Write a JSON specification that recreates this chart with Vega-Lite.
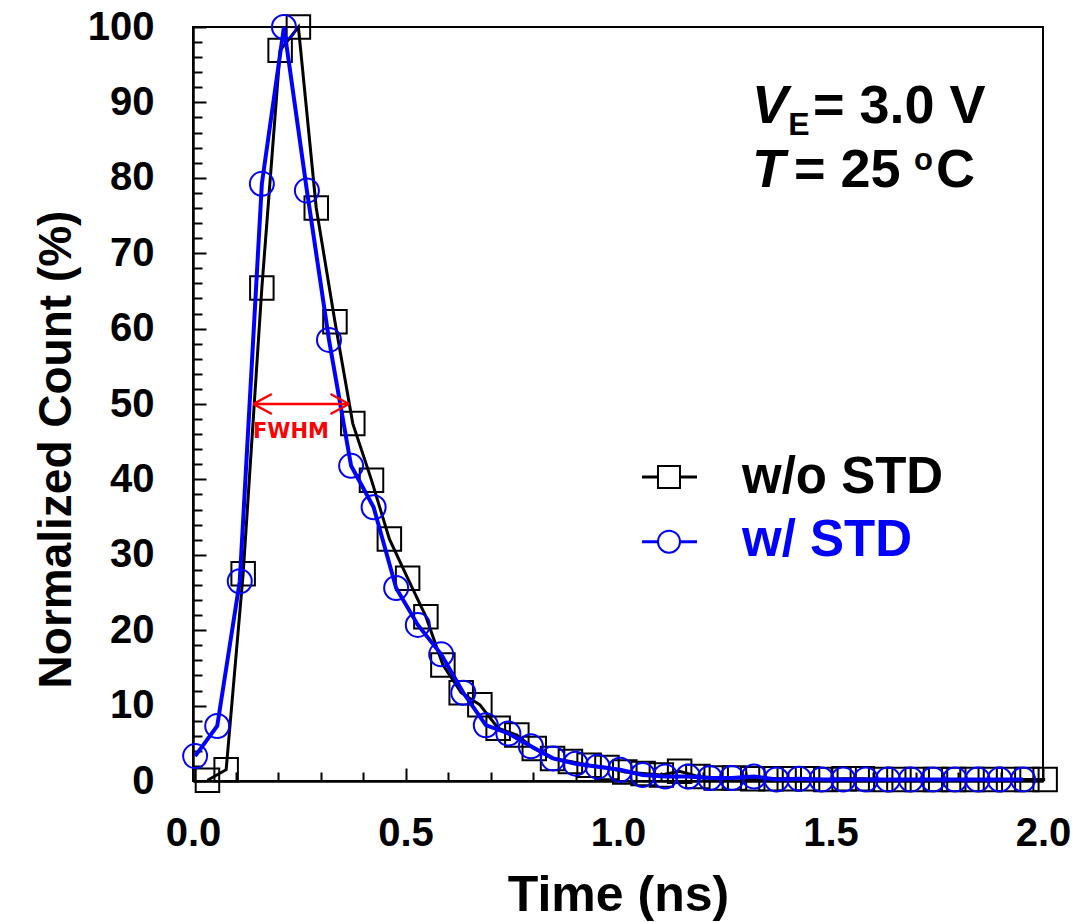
{
  "$schema": "https://vega.github.io/schema/vega-lite/v6.json",
  "width": 850,
  "height": 754,
  "autosize": {"type": "none"},
  "padding": {"left": 193, "top": 27, "right": 46, "bottom": 141},
  "background": "white",
  "config": {
    "view": {"stroke": "black", "strokeWidth": 2},
    "font": "Liberation Sans"
  },
  "resolve": {"axis": {"x": "independent", "y": "independent"}},
  "datasets": {
    "wo": [
      {"t": 0.034, "v": 0.1}, {"t": 0.078, "v": 1.5}, {"t": 0.118, "v": 27.5}, {"t": 0.162, "v": 65.4},
      {"t": 0.205, "v": 96.9}, {"t": 0.248, "v": 100}, {"t": 0.290, "v": 76.0}, {"t": 0.334, "v": 60.9},
      {"t": 0.376, "v": 47.4}, {"t": 0.420, "v": 39.9}, {"t": 0.462, "v": 32.1}, {"t": 0.505, "v": 26.9},
      {"t": 0.548, "v": 21.8}, {"t": 0.588, "v": 15.4}, {"t": 0.631, "v": 11.7}, {"t": 0.675, "v": 10.1},
      {"t": 0.718, "v": 7.0}, {"t": 0.762, "v": 6.1}, {"t": 0.803, "v": 4.3}, {"t": 0.846, "v": 3.0},
      {"t": 0.888, "v": 2.6}, {"t": 0.932, "v": 2.1}, {"t": 0.974, "v": 1.8}, {"t": 1.016, "v": 1.2},
      {"t": 1.059, "v": 1.0}, {"t": 1.102, "v": 0.8}, {"t": 1.145, "v": 1.3}, {"t": 1.188, "v": 0.6},
      {"t": 1.231, "v": 0.4}, {"t": 1.274, "v": 0.4}, {"t": 1.317, "v": 0.3}, {"t": 1.360, "v": 0.3},
      {"t": 1.403, "v": 0.3}, {"t": 1.446, "v": 0.3}, {"t": 1.489, "v": 0.2}, {"t": 1.532, "v": 0.3},
      {"t": 1.575, "v": 0.3}, {"t": 1.618, "v": 0.2}, {"t": 1.661, "v": 0.2}, {"t": 1.704, "v": 0.2},
      {"t": 1.747, "v": 0.2}, {"t": 1.790, "v": 0.2}, {"t": 1.833, "v": 0.2}, {"t": 1.876, "v": 0.2},
      {"t": 1.919, "v": 0.2}, {"t": 1.962, "v": 0.2}, {"t": 2.005, "v": 0.2}
    ],
    "w": [
      {"t": 0.005, "v": 3.3}, {"t": 0.057, "v": 7.3}, {"t": 0.110, "v": 26.5}, {"t": 0.162, "v": 79.2},
      {"t": 0.214, "v": 100}, {"t": 0.268, "v": 78.3}, {"t": 0.320, "v": 58.5}, {"t": 0.372, "v": 41.8},
      {"t": 0.425, "v": 36.3}, {"t": 0.478, "v": 25.6}, {"t": 0.529, "v": 20.7}, {"t": 0.584, "v": 16.8},
      {"t": 0.636, "v": 11.7}, {"t": 0.689, "v": 7.4}, {"t": 0.742, "v": 6.3}, {"t": 0.795, "v": 4.6},
      {"t": 0.847, "v": 3.0}, {"t": 0.900, "v": 2.3}, {"t": 0.952, "v": 1.9}, {"t": 1.005, "v": 1.5},
      {"t": 1.058, "v": 0.8}, {"t": 1.111, "v": 0.6}, {"t": 1.165, "v": 0.6}, {"t": 1.216, "v": 0.4},
      {"t": 1.268, "v": 0.4}, {"t": 1.320, "v": 0.6}, {"t": 1.373, "v": 0.2}, {"t": 1.426, "v": 0.3},
      {"t": 1.479, "v": 0.2}, {"t": 1.530, "v": 0.2}, {"t": 1.583, "v": 0.2}, {"t": 1.635, "v": 0.2},
      {"t": 1.689, "v": 0.2}, {"t": 1.741, "v": 0.2}, {"t": 1.793, "v": 0.2}, {"t": 1.846, "v": 0.2},
      {"t": 1.898, "v": 0.2}, {"t": 1.953, "v": 0.2}
    ]
  },
  "layer": [
    {
      "data": {"name": "wo"},
      "mark": {"type": "line", "color": "black", "strokeWidth": 3, "interpolate": "linear"},
      "encoding": {
        "x": {
          "field": "t", "type": "quantitative",
          "scale": {"domain": [0, 2], "nice": false, "zero": false},
          "axis": {
            "orient": "bottom",
            "title": "Time (ns)",
            "values": [0, 0.5, 1.0, 1.5, 2.0],
            "format": ".1f",
            "tickSize": -13,
            "tickColor": "black", "tickWidth": 2,
            "domainColor": "black", "domainWidth": 2.5,
            "grid": false,
            "labelFont": "Liberation Sans", "labelFontWeight": "bold", "labelFontSize": 40, "labelColor": "black",
            "labelBaseline": "alphabetic", "labelPadding": 77, "labelOverlap": false, "labelFlush": false,
            "titleFont": "Liberation Sans", "titleFontWeight": "bold", "titleFontSize": 50, "titleColor": "black",
            "titleBaseline": "alphabetic", "titleY": 129
          }
        },
        "y": {
          "field": "v", "type": "quantitative",
          "scale": {"domain": [0, 100], "nice": false, "zero": false},
          "axis": {
            "orient": "left",
            "title": "Normalized Count (%)",
            "values": [0, 10, 20, 30, 40, 50, 60, 70, 80, 90, 100],
            "tickSize": -13,
            "tickColor": "black", "tickWidth": 2,
            "domainColor": "black", "domainWidth": 2.5,
            "grid": false,
            "labelFont": "Liberation Sans", "labelFontWeight": "bold", "labelFontSize": 40, "labelColor": "black",
            "labelBaseline": "middle", "labelPadding": 52, "labelOverlap": false, "labelFlush": false,
            "titleFont": "Liberation Sans", "titleFontWeight": "bold", "titleFontSize": 46, "titleColor": "black",
            "titleBaseline": "alphabetic", "titleX": -123, "titleY": 422, "titleAlign": "center"
          }
        }
      }
    },
    {
      "data": {"name": "wo"},
      "mark": {"type": "point", "shape": "square", "filled": false, "color": "black", "strokeWidth": 2, "size": 552, "opacity": 1},
      "encoding": {
        "x": {
          "field": "t", "type": "quantitative",
          "axis": {
            "orient": "bottom", "title": null, "labels": false, "domain": false, "grid": false,
            "values": [0.1, 0.2, 0.3, 0.4, 0.6, 0.7, 0.8, 0.9, 1.1, 1.2, 1.3, 1.4, 1.6, 1.7, 1.8, 1.9],
            "tickSize": -9, "tickColor": "black", "tickWidth": 2
          }
        },
        "y": {
          "field": "v", "type": "quantitative",
          "axis": {
            "orient": "left", "title": null, "labels": false, "domain": false, "grid": false,
            "values": [2, 4, 6, 8, 12, 14, 16, 18, 22, 24, 26, 28, 32, 34, 36, 38, 42, 44, 46, 48, 52, 54, 56, 58, 62, 64, 66, 68, 72, 74, 76, 78, 82, 84, 86, 88, 92, 94, 96, 98],
            "tickSize": -9, "tickColor": "black", "tickWidth": 2
          }
        }
      }
    },
    {
      "data": {"name": "w"},
      "mark": {"type": "line", "color": "#0000FF", "strokeWidth": 4, "interpolate": "linear"},
      "encoding": {
        "x": {"field": "t", "type": "quantitative", "axis": null},
        "y": {"field": "v", "type": "quantitative", "axis": null}
      }
    },
    {
      "data": {"name": "w"},
      "mark": {"type": "point", "shape": "circle", "filled": false, "color": "#0000FF", "strokeWidth": 2, "size": 576, "opacity": 1},
      "encoding": {
        "x": {"field": "t", "type": "quantitative", "axis": null},
        "y": {"field": "v", "type": "quantitative", "axis": null}
      }
    },
    {
      "data": {"values": [{}]},
      "mark": {"type": "rule", "color": "#FF0000", "strokeWidth": 2.3},
      "encoding": {"x": {"datum": 0.142, "axis": null}, "x2": {"datum": 0.367}, "y": {"datum": 50, "axis": null}}
    },
    {
      "data": {"values": [{}]},
      "mark": {"type": "rule", "color": "#FF0000", "strokeWidth": 2.3},
      "encoding": {"x": {"datum": 0.142, "axis": null}, "x2": {"datum": 0.1855}, "y": {"datum": 50, "axis": null}, "y2": {"datum": 51.33}}
    },
    {
      "data": {"values": [{}]},
      "mark": {"type": "rule", "color": "#FF0000", "strokeWidth": 2.3},
      "encoding": {"x": {"datum": 0.142, "axis": null}, "x2": {"datum": 0.1855}, "y": {"datum": 50, "axis": null}, "y2": {"datum": 48.67}}
    },
    {
      "data": {"values": [{}]},
      "mark": {"type": "rule", "color": "#FF0000", "strokeWidth": 2.3},
      "encoding": {"x": {"datum": 0.367, "axis": null}, "x2": {"datum": 0.3235}, "y": {"datum": 50, "axis": null}, "y2": {"datum": 51.33}}
    },
    {
      "data": {"values": [{}]},
      "mark": {"type": "rule", "color": "#FF0000", "strokeWidth": 2.3},
      "encoding": {"x": {"datum": 0.367, "axis": null}, "x2": {"datum": 0.3235}, "y": {"datum": 50, "axis": null}, "y2": {"datum": 48.67}}
    },
    {
      "data": {"values": [{}]},
      "mark": {"type": "text", "text": "FWHM", "font": "DejaVu Sans", "fontWeight": "bold", "fontSize": 21, "color": "#FF0000", "align": "center", "baseline": "alphabetic"},
      "encoding": {"x": {"datum": 0.2306, "axis": null}, "y": {"datum": 45.49, "axis": null}}
    },
    {
      "data": {"values": [{}]},
      "mark": {"type": "rule", "color": "black", "strokeWidth": 3},
      "encoding": {"x": {"datum": 1.0565, "axis": null}, "x2": {"datum": 1.1859}, "y": {"datum": 40.32, "axis": null}}
    },
    {
      "data": {"values": [{}]},
      "mark": {"type": "point", "shape": "square", "filled": true, "fill": "white", "stroke": "black", "strokeWidth": 2, "size": 484, "opacity": 1},
      "encoding": {"x": {"datum": 1.12, "axis": null}, "y": {"datum": 40.32, "axis": null}}
    },
    {
      "data": {"values": [{}]},
      "mark": {"type": "rule", "color": "#0000FF", "strokeWidth": 3},
      "encoding": {"x": {"datum": 1.0565, "axis": null}, "x2": {"datum": 1.1859}, "y": {"datum": 31.74, "axis": null}}
    },
    {
      "data": {"values": [{}]},
      "mark": {"type": "point", "shape": "circle", "filled": true, "fill": "white", "stroke": "#0000FF", "strokeWidth": 2, "size": 484, "opacity": 1},
      "encoding": {"x": {"datum": 1.12, "axis": null}, "y": {"datum": 31.74, "axis": null}}
    },
    {
      "data": {"values": [{}]},
      "mark": {"type": "text", "text": "w/o STD", "font": "Liberation Sans", "fontWeight": "bold", "fontSize": 51, "color": "black", "align": "left", "baseline": "alphabetic"},
      "encoding": {"x": {"datum": 1.2918, "axis": null}, "y": {"datum": 38.2, "axis": null}}
    },
    {
      "data": {"values": [{}]},
      "mark": {"type": "text", "text": "w/ STD", "font": "Liberation Sans", "fontWeight": "bold", "fontSize": 51, "color": "#0000FF", "align": "left", "baseline": "alphabetic"},
      "encoding": {"x": {"datum": 1.2918, "axis": null}, "y": {"datum": 29.84, "axis": null}}
    },
    {
      "data": {"values": [{}]},
      "mark": {"type": "text", "text": "V", "font": "Liberation Sans", "fontWeight": "bold", "fontStyle": "italic", "fontSize": 54, "color": "black", "align": "left", "baseline": "alphabetic"},
      "encoding": {"x": {"datum": 1.3153, "axis": null}, "y": {"datum": 87.27, "axis": null}}
    },
    {
      "data": {"values": [{}]},
      "mark": {"type": "text", "text": "E", "font": "Liberation Sans", "fontWeight": "bold", "fontSize": 32, "color": "black", "align": "left", "baseline": "alphabetic"},
      "encoding": {"x": {"datum": 1.4006, "axis": null}, "y": {"datum": 85.68, "axis": null}}
    },
    {
      "data": {"values": [{}]},
      "mark": {"type": "text", "text": "= 3.0 V", "font": "Liberation Sans", "fontWeight": "bold", "fontSize": 54, "color": "black", "align": "left", "baseline": "alphabetic"},
      "encoding": {"x": {"datum": 1.4588, "axis": null}, "y": {"datum": 87.27, "axis": null}}
    },
    {
      "data": {"values": [{}]},
      "mark": {"type": "text", "text": "T", "font": "Liberation Sans", "fontWeight": "bold", "fontStyle": "italic", "fontSize": 54, "color": "black", "align": "left", "baseline": "alphabetic"},
      "encoding": {"x": {"datum": 1.3153, "axis": null}, "y": {"datum": 78.78, "axis": null}}
    },
    {
      "data": {"values": [{}]},
      "mark": {"type": "text", "text": "= 25", "font": "Liberation Sans", "fontWeight": "bold", "fontSize": 54, "color": "black", "align": "left", "baseline": "alphabetic"},
      "encoding": {"x": {"datum": 1.4141, "axis": null}, "y": {"datum": 78.78, "axis": null}}
    },
    {
      "data": {"values": [{}]},
      "mark": {"type": "text", "text": "o", "font": "Liberation Sans", "fontWeight": "bold", "fontSize": 31, "color": "black", "align": "left", "baseline": "alphabetic"},
      "encoding": {"x": {"datum": 1.6965, "axis": null}, "y": {"datum": 81.03, "axis": null}}
    },
    {
      "data": {"values": [{}]},
      "mark": {"type": "text", "text": "C", "font": "Liberation Sans", "fontWeight": "bold", "fontSize": 54, "color": "black", "align": "left", "baseline": "alphabetic"},
      "encoding": {"x": {"datum": 1.7482, "axis": null}, "y": {"datum": 78.78, "axis": null}}
    }
  ]
}
